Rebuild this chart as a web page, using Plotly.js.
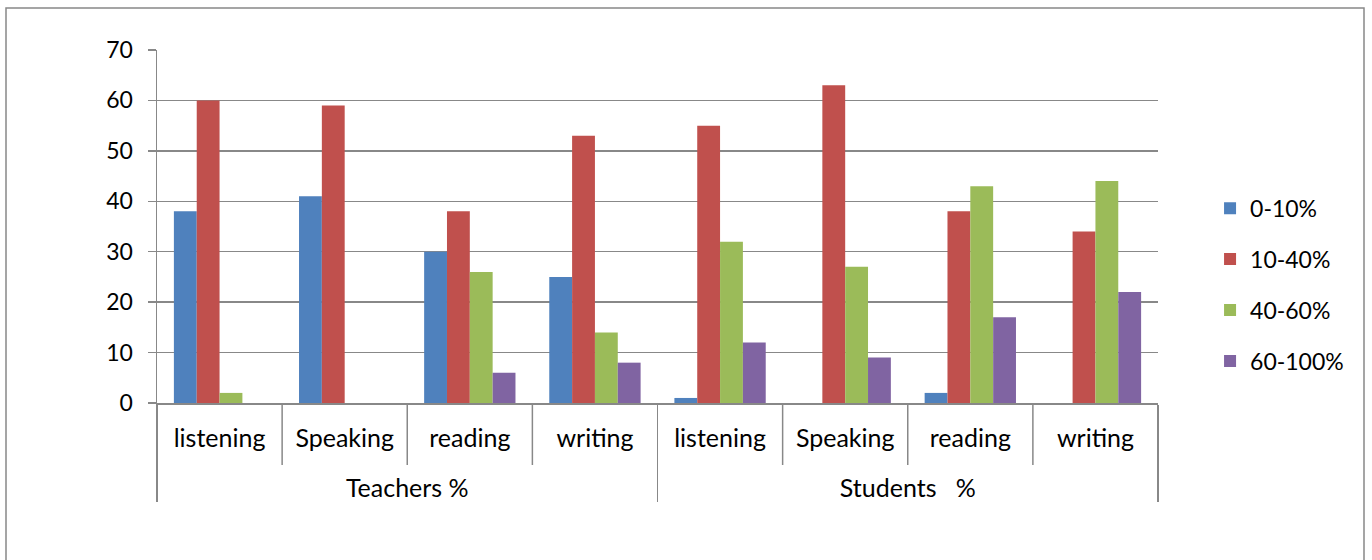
<!DOCTYPE html>
<html>
<head>
<meta charset="utf-8">
<script src="https://cdn.plot.ly/plotly-3.0.1.min.js"></script>
<style>html,body{margin:0;padding:0;background:#fff;}#chart{width:1372px;height:560px;}</style>
</head>
<body>
<div id="chart"></div>
<script>
const groups = ['Teachers %','Teachers %','Teachers %','Teachers %',
                'Students \u00a0 %','Students \u00a0 %','Students \u00a0 %','Students \u00a0 %'];
const skills = ['listening','Speaking','reading','writing','listening','Speaking','reading','writing'];
const seriesNames = ['0-10%','10-40%','40-60%','60-100%'];
const s0_10   = [38, 41, 30, 25, 1, 0, 2, 0];
const s10_40  = [60, 59, 38, 53, 55, 63, 38, 34];
const s40_60  = [2, 0, 26, 14, 32, 27, 43, 44];
const s60_100 = [0, 0, 6, 8, 12, 9, 17, 22];
const colors = ['#4F81BD','#C0504D','#9BBB59','#8064A2'];
const yTicks = [0,10,20,30,40,50,60,70];

// taller invisible padding around inner labels so the group row sits lower (as in Excel)
const pad = '<span style="font-size:50px">\u00a0</span>';
const skillLabels = skills.map(s => pad + s + pad);

const series = [s0_10, s10_40, s40_60, s60_100];
const traces = series.map((vals, i) => ({
  type: 'bar',
  name: seriesNames[i],
  legendgroup: 'g' + i,
  x: [groups, skillLabels],
  y: vals,
  marker: {color: colors[i], line: {width: 0}},
  hoverinfo: 'y+name'
}));

const FONT = 'Lato, "Liberation Sans", sans-serif';
const gray = '#888888';

const shapes = [];
[0.5, 1.5, 2.5, 4.5, 5.5, 6.5].forEach(b => {
  shapes.push({type: 'line', xref: 'x', yref: 'paper', x0: b, x1: b, y0: 0, y1: -62/353,
               line: {color: gray, width: 1.5}});
});
shapes.push({type: 'rect', xref: 'paper', yref: 'paper',
             x0: (6-157)/1001, x1: (1364-157)/1001, y0: (403-570)/353, y1: (403-8)/353,
             line: {color: gray, width: 1.5}, fillcolor: 'rgba(0,0,0,0)', layer: 'below'});

const layout = {
  width: 1372, height: 560,
  margin: {l: 157, r: 214, t: 50, b: 157},
  paper_bgcolor: '#ffffff', plot_bgcolor: '#ffffff',
  font: {family: FONT, color: '#000000', size: 22},
  bargap: 0.27, bargroupgap: 0,
  barmode: 'group',
  showlegend: true,
  legend: {x: 1.052, xanchor: 'left', y: 0.335, yanchor: 'middle',
           font: {family: FONT, size: 23, color: '#000'}, tracegroupgap: 18,
           bgcolor: 'rgba(0,0,0,0)'},
  xaxis: {
    type: 'multicategory',
    showgrid: false,
    showline: true, linecolor: gray, linewidth: 1.5,
    ticks: '', tickangle: 0,
    ticklabelstandoff: 12,
    showdividers: true, dividercolor: gray, dividerwidth: 1.5,
    tickfont: {family: FONT, size: 25, color: '#000'},
    zeroline: false, fixedrange: true
  },
  yaxis: {
    range: [0, 70], tickvals: yTicks, ticktext: yTicks.map(String),
    showgrid: true, gridcolor: gray, gridwidth: 1.5,
    showline: true, linecolor: gray, linewidth: 1.5,
    ticks: 'outside', ticklen: 8, tickcolor: gray, tickwidth: 1.5,
    ticklabelstandoff: 10,
    tickfont: {family: FONT, size: 23, color: '#000'},
    zeroline: false, fixedrange: true
  },
  shapes: shapes
};

Plotly.newPlot('chart', traces, layout, {displayModeBar: false, staticPlot: true});
</script>
</body>
</html>
